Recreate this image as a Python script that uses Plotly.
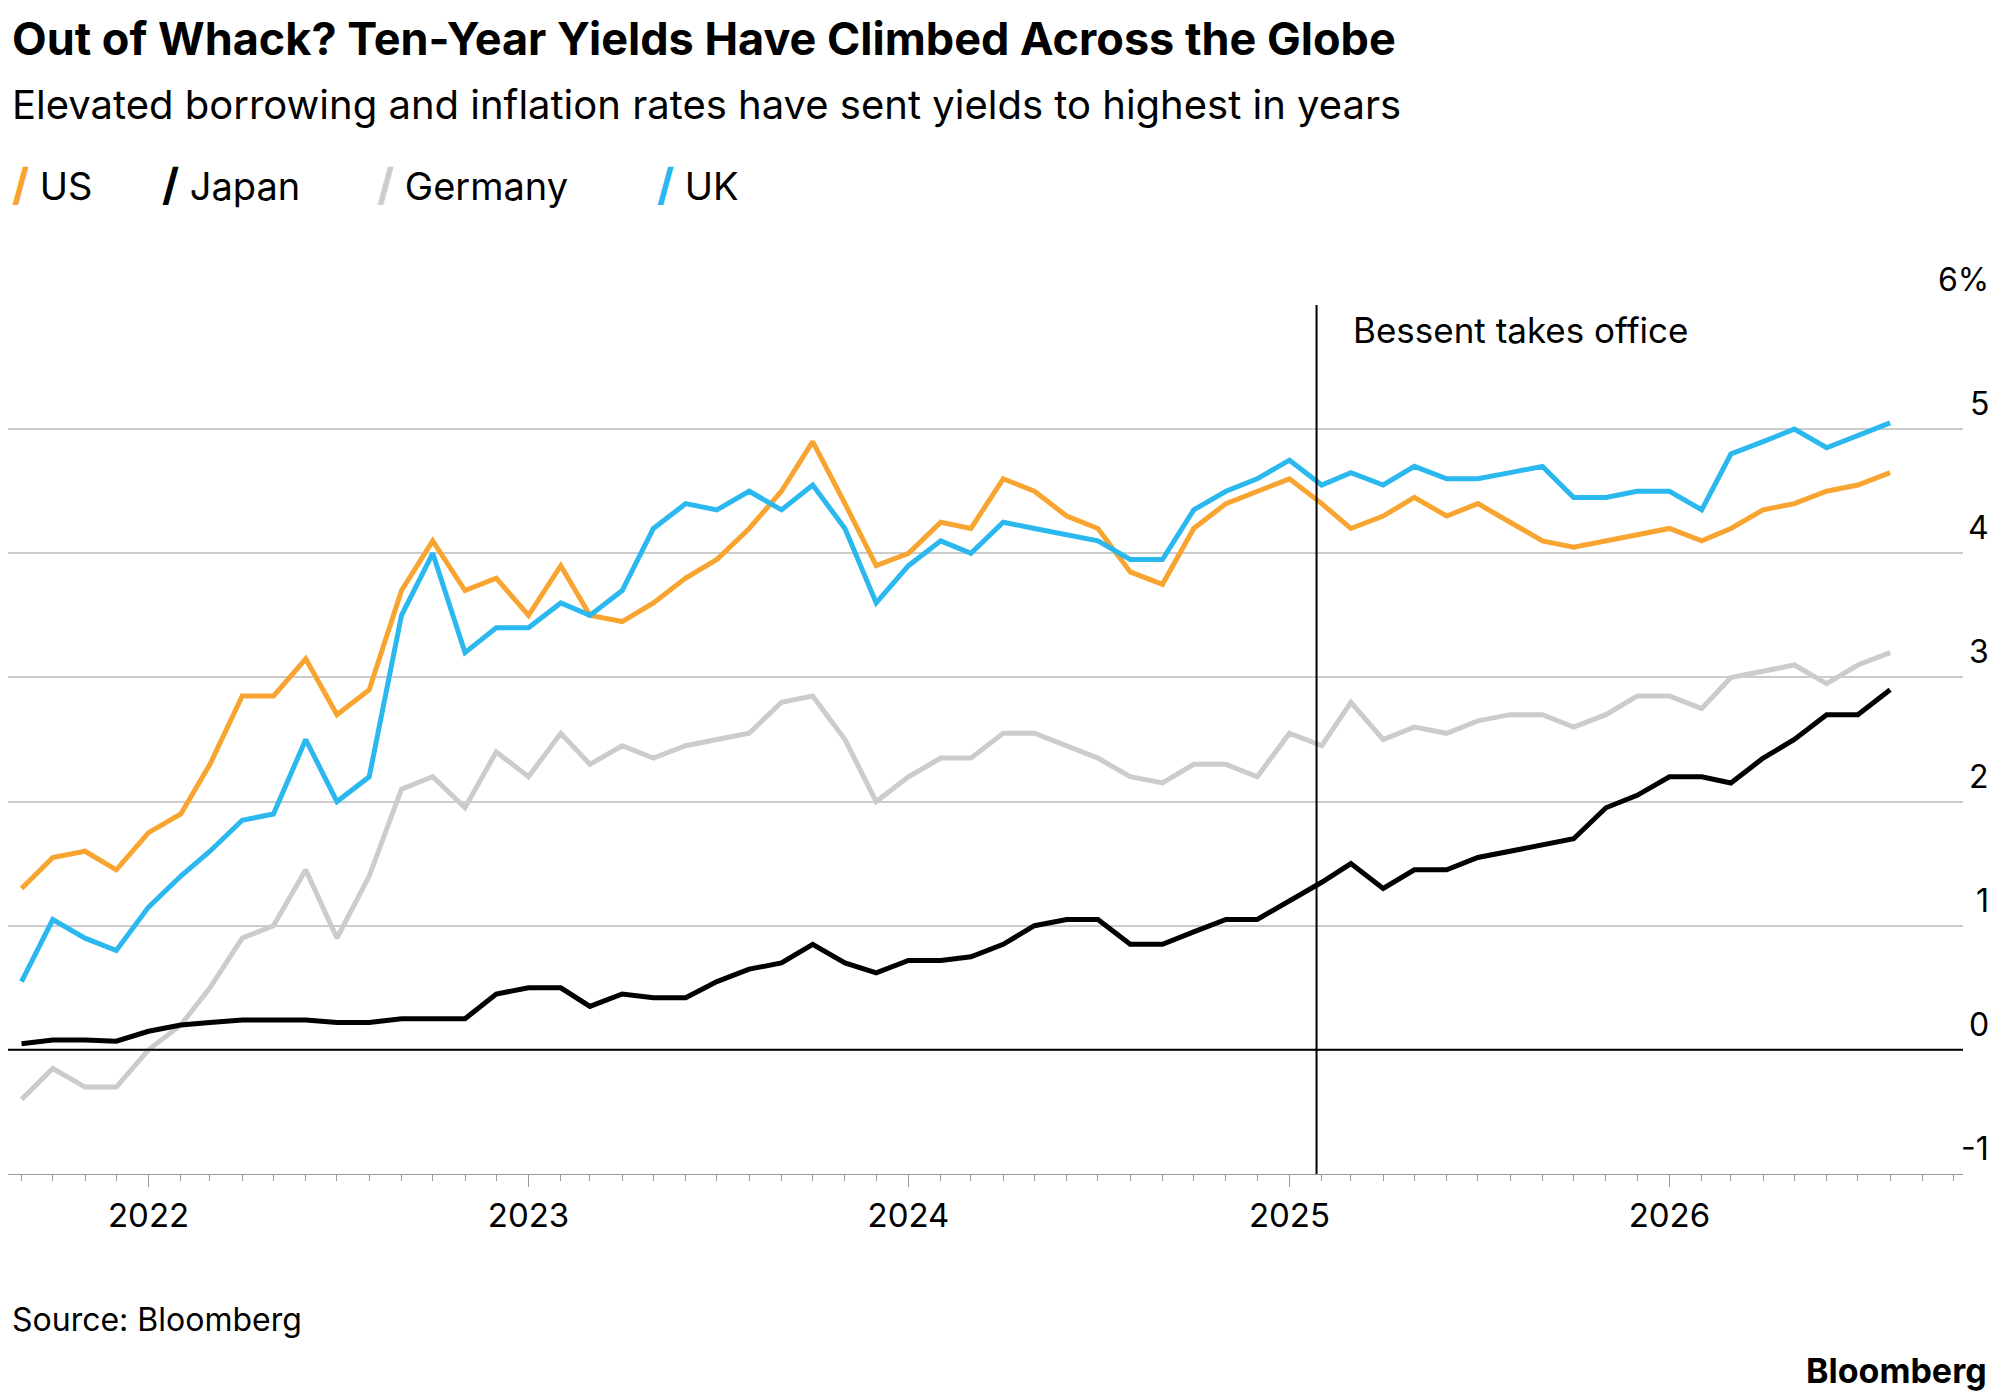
import plotly.graph_objects as go
import pandas as pd

dates = [d.strftime("%Y-%m-%d") for d in pd.date_range("2021-09-01", periods=60, freq="MS")]

us = [1.3,1.55,1.6,1.45,1.75,1.9,2.3,2.85,2.85,3.15,2.7,2.9,3.7,4.1,3.7,3.8,3.5,3.9,3.5,3.45,3.6,3.8,3.95,4.2,4.5,4.9,4.4,3.9,4.0,4.25,4.2,4.6,4.5,4.3,4.2,3.85,3.75,4.2,4.4,4.5,4.6,4.4,4.2,4.3,4.45,4.3,4.4,4.25,4.1,4.05,4.1,4.15,4.2,4.1,4.2,4.35,4.4,4.5,4.55,4.65]
uk = [0.55,1.05,0.9,0.8,1.15,1.4,1.6,1.85,1.9,2.5,2.0,2.2,3.5,4.0,3.2,3.4,3.4,3.6,3.5,3.7,4.2,4.4,4.35,4.5,4.35,4.55,4.2,3.6,3.9,4.1,4.0,4.25,4.2,4.15,4.1,3.95,3.95,4.35,4.5,4.6,4.75,4.55,4.65,4.55,4.7,4.6,4.6,4.65,4.7,4.45,4.45,4.5,4.5,4.35,4.8,4.9,5.0,4.85,4.95,5.05]
germany = [-0.4,-0.15,-0.3,-0.3,0.0,0.2,0.5,0.9,1.0,1.45,0.9,1.4,2.1,2.2,1.95,2.4,2.2,2.55,2.3,2.45,2.35,2.45,2.5,2.55,2.8,2.85,2.5,2.0,2.2,2.35,2.35,2.55,2.55,2.45,2.35,2.2,2.15,2.3,2.3,2.2,2.55,2.45,2.8,2.5,2.6,2.55,2.65,2.7,2.7,2.6,2.7,2.85,2.85,2.75,3.0,3.05,3.1,2.95,3.1,3.2]
japan = [0.05,0.08,0.08,0.07,0.15,0.2,0.22,0.24,0.24,0.24,0.22,0.22,0.25,0.25,0.25,0.45,0.5,0.5,0.35,0.45,0.42,0.42,0.55,0.65,0.7,0.85,0.7,0.62,0.72,0.72,0.75,0.85,1.0,1.05,1.05,0.85,0.85,0.95,1.05,1.05,1.2,1.35,1.5,1.3,1.45,1.45,1.55,1.6,1.65,1.7,1.95,2.05,2.2,2.2,2.15,2.35,2.5,2.7,2.7,2.9]

series = [("Germany", germany, "#cccccc"), ("Japan", japan, "#000000"),
          ("US", us, "#f7a530"), ("UK", uk, "#2ab8ee")]
legend_order = [("US", "#f7a530"), ("Japan", "#000000"), ("Germany", "#cccccc"), ("UK", "#2ab8ee")]
y_ticks = [-1, 0, 1, 2, 3, 4, 5, 6]
y_text = ["-1", "0", "1", "2", "3", "4", "5", "6%"]
event_date = "2025-01-27"
event_label = "Bessent takes office"

FONT = "Inter"
T, B, H = 297, 226, 1392
PH = H - T - B

def py(pix):
    return (H - B - pix) / PH

fig = go.Figure()
for name, vals, col in series:
    fig.add_trace(go.Scatter(x=dates, y=vals, mode="lines", name=name,
                             line=dict(color=col, width=5), showlegend=False))

fig.add_shape(type="line", xref="paper", x0=0, x1=1, yref="y", y0=0, y1=0,
              line=dict(color="black", width=2))
fig.add_shape(type="line", xref="x", x0=event_date, x1=event_date, yref="paper", y0=0, y1=1,
              line=dict(color="black", width=2))
fig.add_annotation(x=event_date, y=5.8, xref="x", yref="y", text=event_label, showarrow=False,
                   xanchor="left", xshift=34, font=dict(family=FONT, size=35, color="black"))

for v, t in zip(y_ticks, y_text):
    fig.add_annotation(x=1, y=v, xref="paper", yref="y", text=t, showarrow=False,
                       xanchor="right", yanchor="bottom", xshift=28, yshift=4,
                       font=dict(family=FONT, size=32, color="black"))

xpos = 2
widths = {"US": 150, "Japan": 215, "Germany": 280, "UK": 150}
for name, col in legend_order:
    fig.add_annotation(x=0, y=py(176), xref="paper", yref="paper", showarrow=False,
                       text=f"<span style='color:{col};font-size:44px'><b>/</b></span> {name}",
                       xanchor="left", yanchor="middle", xshift=xpos,
                       font=dict(family=FONT, size=38, color="black"))
    xpos += widths[name]

fig.update_layout(
    width=2005, height=H, plot_bgcolor="white", paper_bgcolor="white",
    margin=dict(l=0, r=50, t=T, b=B),
    font=dict(family=FONT, size=33, color="black"),
    xaxis=dict(range=["2021-08-19", "2026-10-10"], showgrid=False, showline=True,
               linecolor="#999", linewidth=1, tickformat="%Y", dtick="M12", tick0="2022-01-01",
               ticks="outside", ticklen=12, tickcolor="#999",
               minor=dict(dtick="M1", ticks="outside", ticklen=6, tickcolor="#999"),
               tickfont=dict(size=33)),
    yaxis=dict(range=[-1, 6], tickvals=y_ticks, showticklabels=False, gridcolor="#cccccc",
               gridwidth=2, zeroline=False),
)

fig.add_annotation(x=0, y=py(30), xref="paper", yref="paper", showarrow=False,
                   xanchor="left", yanchor="middle", text="<b>Out of Whack? Ten-Year Yields Have Climbed Across the Globe</b>",
                   font=dict(family=FONT, size=45, color="black"), xshift=2)
fig.add_annotation(x=0, y=py(96), xref="paper", yref="paper", showarrow=False,
                   xanchor="left", yanchor="middle", text="Elevated borrowing and inflation rates have sent yields to highest in years",
                   font=dict(family=FONT, size=40, color="black"), xshift=2)
fig.add_annotation(x=0, y=py(1311), xref="paper", yref="paper", showarrow=False,
                   xanchor="left", yanchor="middle", text="Source: Bloomberg",
                   font=dict(family=FONT, size=32, color="black"), xshift=2)
fig.add_annotation(x=1, y=py(1362), xref="paper", yref="paper", showarrow=False,
                   xanchor="right", yanchor="middle", text="<b>Bloomberg</b>", xshift=26,
                   font=dict(family=FONT, size=34, color="black"))

fig.write_html("out.html")
